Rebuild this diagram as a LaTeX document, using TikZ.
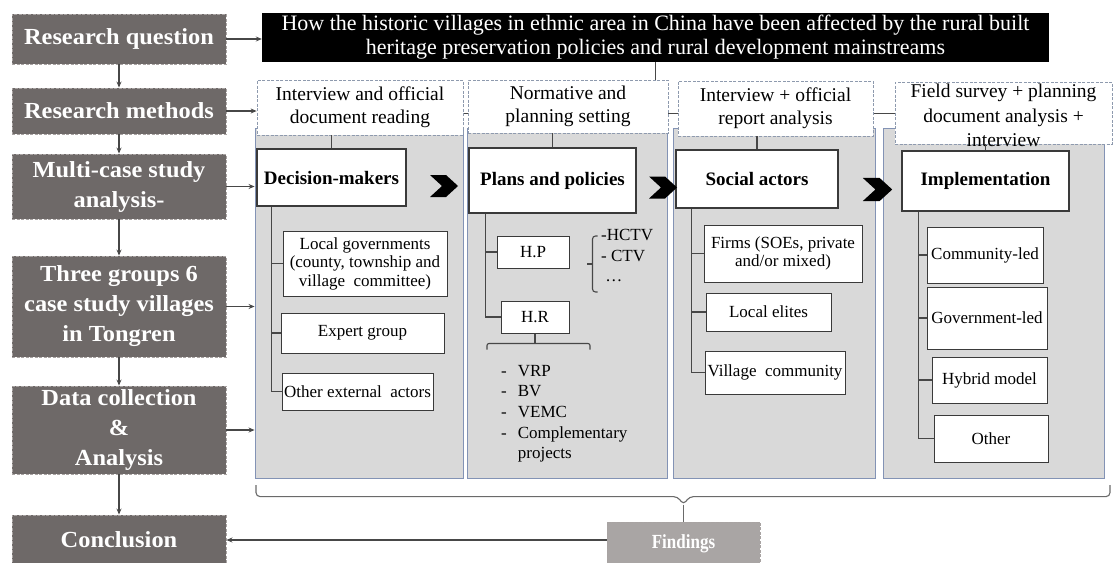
\documentclass[tikz,border=0pt]{standalone}
\usepackage{fontspec}
\setmainfont{Liberation Serif}
\newfontfamily\headserif[FakeStretch=1.06]{Liberation Serif}
\newfontfamily\narrowserif[FakeStretch=0.85]{Liberation Serif}
\usetikzlibrary{arrows.meta,calc}

\definecolor{leftfill}{HTML}{6E6968}
\definecolor{leftborder}{HTML}{A8A3A2}
\definecolor{panelfill}{HTML}{D9D9D9}
\definecolor{panelborder}{HTML}{8393B5}
\definecolor{methborder}{HTML}{8E9AAE}
\definecolor{boxline}{HTML}{3A3A3A}
\definecolor{linkcol}{HTML}{474747}
\definecolor{findfill}{HTML}{A9A5A4}
\definecolor{bracecol}{HTML}{6A6A6A}

\begin{document}
\begin{tikzpicture}[x=1pt,y=-1pt,
  lefthead/.style={draw=leftborder, dash pattern=on 3pt off 1.5pt, line width=0.9pt,
    fill=leftfill, text=white, inner sep=0pt, align=center,
    font=\headserif\bfseries\fontsize{23}{30}\selectfont},
  question/.style={fill=black, text=white, inner sep=0pt, align=center,
    font=\fontsize{22}{24}\selectfont},
  method/.style={draw=methborder, dash pattern=on 3pt off 1.5pt, line width=0.8pt,
    fill=white, inner sep=0pt, align=center, font=\fontsize{19.5}{23}\selectfont},
  panel/.style={draw=panelborder, line width=0.9pt, fill=panelfill, inner sep=0pt},
  headbox/.style={draw=boxline, line width=1.2pt, fill=white, inner sep=0pt,
    align=center, font=\bfseries\fontsize{19}{23}\selectfont},
  itembox/.style={draw=boxline, line width=1pt, fill=white, inner sep=0pt,
    align=center, font=\fontsize{17}{18.5}\selectfont},
  listtext/.style={inner sep=0pt, align=left, font=\fontsize{17}{20.7}\selectfont},
  findbox/.style={draw=leftborder, dash pattern=on 3pt off 1.5pt, line width=0.8pt,
    fill=findfill, text=white, inner sep=0pt,
    font=\narrowserif\bfseries\fontsize{20}{24}\selectfont},
  link/.style={draw=linkcol, line width=1.1pt},
  arr/.style={link, -{Stealth[length=6pt,width=5pt]}},
  chev/.pic={\fill[black] (-14,-11) -- (2,-11) -- (14,0) -- (2,11) -- (-14,11) -- (-2,0) -- cycle;}
]
\useasboundingbox (0,0) rectangle (1113,562);
\fill[white] (0,0) rectangle (1113,562);

% ---- left column: research steps ----
\node[lefthead, minimum width=214, minimum height=50] (rq) at (119,39) {Research question};
\node[lefthead, minimum width=214, minimum height=46] (rm) at (119,111) {Research methods};
\node[lefthead, minimum width=214, minimum height=65] (mc) at (119,186.5) {Multi-case study\\analysis-};
\node[lefthead, minimum width=214, minimum height=101] (tg) at (119,306.5) {Three groups 6\\case study villages\\in Tongren};
\node[lefthead, minimum width=214, minimum height=88] (dc) at (119,430) {Data collection\\\&\\Analysis};
\node[lefthead, minimum width=214, minimum height=50] (cc) at (119,540) {Conclusion};

\draw[arr] (rq) -- (rm);
\draw[arr] (rm) -- (mc);
\draw[arr] (mc) -- (tg);
\draw[arr] (tg) -- (dc);
\draw[arr] (dc) -- (cc);

% ---- research question ----
\node[question, minimum width=787, minimum height=49] (q) at (655.5,37.5)
  {How the historic villages in ethnic area in China have been affected by the rural built\\heritage preservation policies and rural development mainstreams};
\draw[arr] (rq.east) -- (rq.east -| q.west);

% ---- grey stage panels ----
\node[panel, minimum width=208, minimum height=350] (p1) at (359,303) {};
\node[panel, minimum width=200, minimum height=350] (p2) at (567,303) {};
\node[panel, minimum width=202, minimum height=350] (p3) at (774,303) {};
\node[panel, minimum width=221, minimum height=350] (p4) at (993.5,303) {};

% ---- method boxes ----
\coordinate (bus) at (895,113);
\draw[link, line width=0.9pt] (bus) -- (463,113);
\node[method, minimum width=206, minimum height=55] (m1) at (360,107.5) {Interview and official\\document reading};
\node[method, minimum width=200, minimum height=53] (m2) at (568,106.5) {Normative and\\planning setting};
\node[method, minimum width=195, minimum height=55] (m3) at (775.5,108.5) {Interview + official\\report analysis};
\node[method, minimum width=217, minimum height=62] (m4) at (1003.5,113) {};
\node[inner sep=0pt, align=center, font=\fontsize{19.5}{24.5}\selectfont, anchor=north] (m4t) at (1003.5,84)
  {Field survey + planning\\document analysis +\\interview};
\draw[link] (q.south) -- (q.south |- m2.north);
\draw[arr] (rm.east) -- (rm.east -| m1.west);

\draw[arr] (mc.east) -- (mc.east -| p1.west);
\draw[arr] (tg.east) -- (tg.east -| p1.west);
\draw[arr] (dc.east) -- (dc.east -| p1.west);

% ---- stage heads ----
\node[headbox, minimum width=149, minimum height=57] (dm) at (331.5,177.5) {Decision-makers};
\node[headbox, minimum width=167, minimum height=65] (pp) at (552.5,180.5) {Plans and policies};
\node[headbox, minimum width=162, minimum height=58] (sa) at (757,179) {Social actors};
\node[headbox, minimum width=167, minimum height=60] (im) at (985.5,181) {Implementation};

\draw[link] (m1.south -| dm.north) -- (dm.north);
\draw[link] (m2.south -| pp.north) -- (pp.north);
\draw[link] (m3.south -| sa.north) -- (sa.north);
\draw[link] (m4.south -| im.north) -- (im.north);

\pic at (444,186) {chev};
\pic at (663,187.5) {chev};
\pic[scale=1.05] at (877.5,189.5) {chev};

% ---- decision-makers ----
\node[itembox, minimum width=164, minimum height=65] (lg) at (365,263.5) {Local governments\\(county, township and\\village\ \ committee)};
\node[itembox, minimum width=163, minimum height=40] (eg) at (362.5,333) {Expert group};
\node[itembox, minimum width=151, minimum height=37] (oe) at (357.5,391.5) {Other external\ \ actors};
\coordinate (dmt) at ($(dm.south west)+(15,0)$);
\draw[link] (dmt) |- (oe.west);
\draw[link] (lg.west) -- (lg.west -| dmt);
\draw[link] (eg.west) -- (eg.west -| dmt);

% ---- plans and policies ----
\node[itembox, minimum width=72, minimum height=32] (hp) at (533,252) {H.P};
\node[itembox, minimum width=68, minimum height=32] (hr) at (535,317) {H.R};
\coordinate (ppt) at ($(pp.south west)+(17,0)$);
\draw[link] (ppt) |- (hr.west);
\draw[link] (hp.west) -- (hp.west -| ppt);

\coordinate (hpb) at ($(hp.east)+(23,12)$);
\draw[link, rounded corners=3pt] ($(hpb)+(5,-28)$) -- ($(hpb)+(0,-28)$) -- ($(hpb)+(0,28)$) -- ($(hpb)+(5,28)$);
\draw[link] (hpb) -- ++(-6,0);
\node[listtext, anchor=north west] (hpl) at (601,229) {-HCTV\\- CTV\\\ …};

\coordinate (hrb) at ($(hr.south)+(0,10)$);
\draw[link] (hr.south) -- (hrb);
\draw[link, rounded corners=2pt] ($(hrb)+(-48,6)$) -- ($(hrb)+(-48,0)$) -- ($(hrb)+(55,0)$) -- ($(hrb)+(55,6)$);
\node[listtext, anchor=north west] (hrl) at (501,361.5)
  {\begin{tabular}{@{}l@{\hspace{11pt}}l@{}}-&VRP\\-&BV\\-&VEMC\\-&Complementary\\&projects\end{tabular}};

% ---- social actors ----
\node[itembox, minimum width=158, minimum height=57] (fi) at (783,253.5) {Firms (SOEs, private\\and/or mixed)};
\node[itembox, minimum width=125, minimum height=38] (le) at (768.5,312) {Local elites};
\node[itembox, minimum width=140, minimum height=43] (vc) at (775,372.5) {Village\ \ community};
\coordinate (sat) at ($(sa.south west)+(16,0)$);
\draw[link] (sat) |- (vc.west);
\draw[link] (fi.west) -- (fi.west -| sat);
\draw[link] (le.west) -- (le.west -| sat);

% ---- implementation ----
\node[itembox, minimum width=116, minimum height=56] (cl) at (985,255) {Community-led};
\node[itembox, minimum width=120, minimum height=62] (gl) at (987,318) {Government-led};
\node[itembox, minimum width=115, minimum height=46] (hm) at (989.5,380) {Hybrid model};
\node[itembox, minimum width=114, minimum height=47] (ot) at (991,438.5) {Other};
\coordinate (imt) at ($(im.south west)+(17,0)$);
\draw[link] (imt) |- (ot.west);
\draw[link] (cl.west) -- (cl.west -| imt);
\draw[link] (gl.west) -- (gl.west -| imt);
\draw[link] (hm.west) -- (hm.west -| imt);

% ---- findings ----
\node[findbox, minimum width=153, minimum height=44] (fd) at (683.5,544) {Findings};
\coordinate (tip) at ($(fd.north)+(0,-17)$);
\draw[bracecol, line width=1.1pt, rounded corners=4pt]
  (256,485) |- ($(tip)+(-6,-8)$) -- (tip) -- ($(tip)+(6,-8)$) -| (1110,485);
\draw[bracecol, line width=1.1pt] (tip) -- (fd.north);
\draw[arr] (fd.west |- cc.east) -- (cc.east);
\end{tikzpicture}
\end{document}
